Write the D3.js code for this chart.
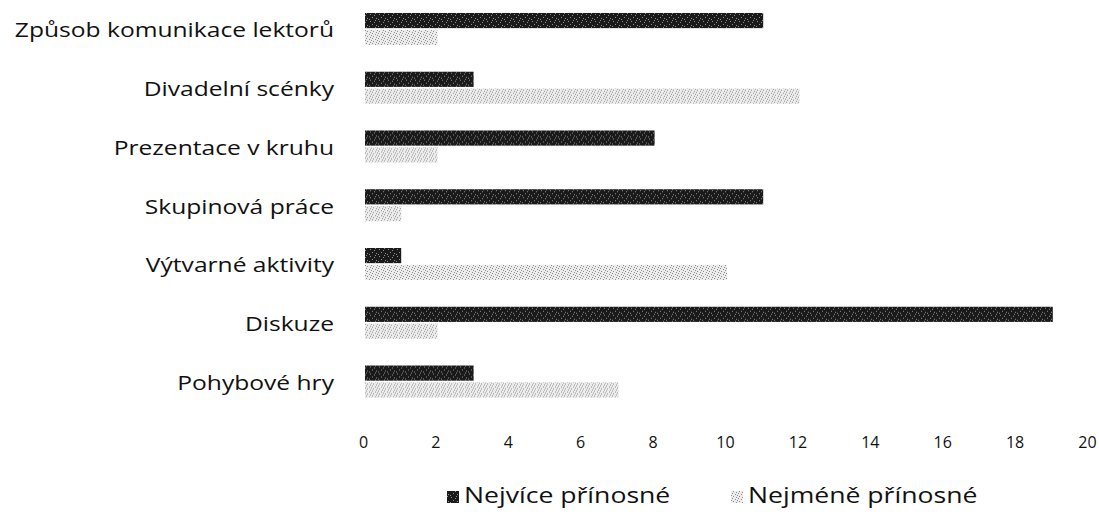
<!DOCTYPE html>
<html>
<head>
<meta charset="utf-8">
<script src="https://cdn.jsdelivr.net/npm/d3@7"></script>
<style>
  html, body { margin: 0; padding: 0; background: #fff; }
  svg { display: block; }
</style>
</head>
<body>
<svg id="chart" width="1099" height="515"></svg>
<script>
const categories = [
  "Způsob komunikace lektorů",
  "Divadelní scénky",
  "Prezentace v kruhu",
  "Skupinová práce",
  "Výtvarné aktivity",
  "Diskuze",
  "Pohybové hry"
];
const seriesNames = ["Nejvíce přínosné", "Nejméně přínosné"];
const mostUseful  = [11, 3, 8, 11, 1, 19, 3];
const leastUseful = [2, 12, 2, 1, 10, 2, 7];
const tickValues  = [0, 2, 4, 6, 8, 10, 12, 14, 16, 18, 20];

const svg = d3.select("#chart");
const defs = svg.append("defs");

// scanned-looking textures
const pd = defs.append("pattern").attr("id", "patDark")
  .attr("patternUnits", "userSpaceOnUse").attr("width", 9).attr("height", 7);
pd.append("rect").attr("width", 9).attr("height", 7).attr("fill", "#1a1a1a");
[[1,1],[5,2],[3,4],[7,5],[0,6],[6,0]].forEach(([x,y]) =>
  pd.append("rect").attr("x", x).attr("y", y).attr("width", 1).attr("height", 1).attr("fill", "#909090"));

const pl = defs.append("pattern").attr("id", "patLight")
  .attr("patternUnits", "userSpaceOnUse").attr("width", 6).attr("height", 5);
pl.append("rect").attr("width", 6).attr("height", 5).attr("fill", "#ececec");
[[0,0],[3,1],[1,3],[4,4],[5,2]].forEach(([x,y]) =>
  pl.append("rect").attr("x", x).attr("y", y).attr("width", 1).attr("height", 1).attr("fill", "#8e8e8e"));

const colors = ["url(#patDark)", "url(#patLight)"];
const STRETCH = 1.23; // scanned text is horizontally stretched

const x = d3.scaleLinear().domain([0, 20]).range([365, 1089]);
const y = d3.scaleBand().domain(categories).range([-0.4, 410.9])
  .paddingInner(0.455).paddingOuter(0.2275);
const ySub = d3.scaleBand().domain([0, 1]).range([0, y.bandwidth()]).paddingInner(0.1);

const data = categories.map((c, i) => ({ cat: c, vals: [mostUseful[i], leastUseful[i]] }));

const g = svg.append("g").selectAll("g").data(data).join("g")
  .attr("transform", d => `translate(0,${y(d.cat)})`);
g.selectAll("rect").data(d => d.vals).join("rect")
  .attr("x", x(0))
  .attr("y", (v, j) => ySub(j))
  .attr("width", v => x(v) - x(0))
  .attr("height", ySub.bandwidth())
  .attr("fill", (v, j) => colors[j]);

// category labels
const yAxis = svg.append("g").attr("transform", `translate(334,2)`)
  .call(d3.axisLeft(y).tickSize(0).tickPadding(0));
yAxis.select(".domain").remove();
yAxis.selectAll("text")
  .attr("font-family", "'Open Sans', sans-serif")
  .attr("font-size", 20)
  .attr("fill", "#111")
  .attr("transform", `scale(${STRETCH},1)`);

// x tick labels
const xAxis = svg.append("g").attr("transform", `translate(-2,437)`)
  .call(d3.axisBottom(x).tickValues(tickValues).tickSize(0).tickPadding(0));
xAxis.select(".domain").remove();
xAxis.selectAll("text")
  .attr("font-family", "'Open Sans', sans-serif")
  .attr("font-size", 16)
  .attr("fill", "#111");

// legend
const legend = svg.append("g").attr("transform", "translate(0,503)");
const legX = [447, 731];
seriesNames.forEach((name, i) => {
  legend.append("rect").attr("x", legX[i]).attr("y", -12).attr("width", 12).attr("height", 12)
    .attr("fill", colors[i]);
  legend.append("g").attr("transform", `translate(${legX[i] + 17},0) scale(${STRETCH * 1.03},1)`)
    .append("text").attr("x", 0).attr("y", 0)
    .attr("font-family", "'Open Sans', sans-serif").attr("font-size", 21)
    .attr("fill", "#111").text(name);
});
</script>
</body>
</html>
